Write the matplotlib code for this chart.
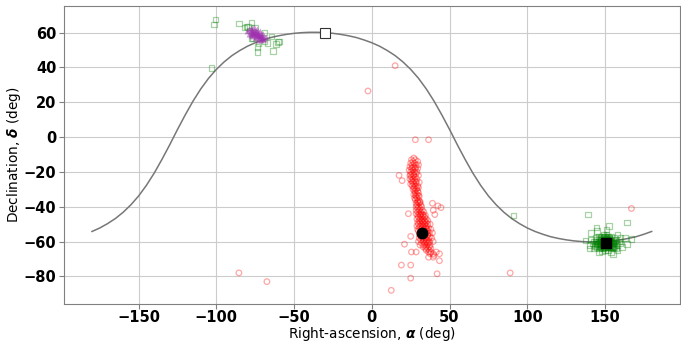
import matplotlib
matplotlib.use('Agg')
import matplotlib.pyplot as plt

# great circle (right-ascension / declination, deg), every 5 deg
circle_ra = list(range(-180, 181, 5))
circle_dec = [-54.2, -52.2, -49.7, -46.8, -43.2, -38.9, -33.8, -27.7, -20.7, -12.8, -4.4, 4.4,
              12.8, 20.7, 27.7, 33.8, 38.9, 43.2, 46.8, 49.7, 52.2, 54.2, 55.8, 57.2, 58.2, 59.0,
              59.6, 60.0, 60.2, 60.2, 60.0, 59.6, 59.0, 58.2, 57.2, 55.8, 54.2, 52.2, 49.7, 46.8,
              43.2, 38.9, 33.8, 27.7, 20.7, 12.8, 4.4, -4.4, -12.8, -20.7, -27.7, -33.8, -38.9,
              -43.2, -46.8, -49.7, -52.2, -54.2, -55.8, -57.2, -58.2, -59.0, -59.6, -60.0, -60.2,
              -60.2, -60.0, -59.6, -59.0, -58.2, -57.2, -55.8, -54.2]

# red source (open circles)
red_ra = [27, 25.5, 28, 26.5, 29.5, 25, 27.5, 26, 28.5, 30, 24.5, 27, 25.5, 28, 29.5, 26.5, 24,
          25, 27.5, 29, 26, 28.5, 24.5, 27, 30, 25.5, 28, 26.5, 29, 24.5, 27.5, 25.5, 26, 28.5,
          30.5, 27, 25, 28, 26, 29.5, 27, 30, 26.5, 28.5, 27.5, 29.5, 28, 30, 27, 29, 28.5, 30.5,
          29, 27.5, 28, 30, 29.5, 31, 28.5, 30.5, 29, 31.5, 30, 28.5, 32, 29.5, 31, 30.5, 28.5,
          32.5, 29.5, 31.5, 33.5, 30.5, 32, 28.5, 31, 33, 29.5, 34.5, 30, 32, 34, 31, 33, 29, 35,
          32, 30.5, 34, 36, 31, 33, 35, 29.5, 32, 34, 30, 36, 37.5, 31, 33, 35, 29, 32.5, 34.5,
          30.5, 36.5, 31.5, 33.5, 35.5, 29.5, 38, 32, 34, 36, 30, 33, 35, 31, 37, 39, 32, 34, 36,
          30.5, 33, 35, 31.5, 37.5, 32.5, 34.5, 36.5, 30.5, 38.5, 33.5, 35.5, 31.5, 33, 35, 37,
          30, 39.5, 34, 36, 32, 33.5, 35.5, 37.5, 31, 35, 37, 33, 36, 38, 34.5, 37, 35, 38, 36.5,
          37.5, 39.5,
          26, 28, 25, 27, 26.5, 28.5, 27.5, 29, 28, 30, 29.5, 31, 31.5, 33, 32.5, 34, 33.5, 35,
          34, 36, 35, 37,
          15, -2.5, 28, 36.5, 17.5, 19.5, 42.5, 44.5, 39.5, 40.5, 25, 21, 25.5, 28.5, 41.5, 43.5,
          40, 36.5, 39.5, 43.5, 19, 25, 25, 42, 12.5, -85.5, -67.5, 89, 167, 23.5, 39]
red_dec = [-12, -13, -13, -14, -14, -15, -15, -16, -16, -16, -17, -17, -18, -18, -18, -19, -19,
           -20, -20, -20, -21, -21, -22, -22, -22, -23, -23, -24, -24, -24, -25, -25, -26, -26,
           -26, -27, -27, -28, -28, -28, -29, -29, -30, -30, -31, -31, -32, -32, -33, -33, -34,
           -34, -35, -35, -36, -36, -37, -37, -38, -38, -39, -39, -40, -40, -40, -41, -41, -42,
           -42, -42, -43, -43, -43, -44, -44, -44, -45, -45, -45, -45, -46, -46, -46, -47, -47,
           -47, -47, -48, -48, -48, -48, -49, -49, -49, -49, -50, -50, -50, -50, -50, -51, -51,
           -51, -51, -52, -52, -52, -52, -53, -53, -53, -53, -53, -54, -54, -54, -54, -55, -55,
           -55, -55, -55, -56, -56, -56, -56, -57, -57, -57, -57, -58, -58, -58, -58, -58, -59,
           -59, -59, -60, -60, -60, -60, -60, -61, -61, -61, -62, -62, -62, -62, -63, -63, -63,
           -64, -64, -64, -65, -65, -66, -66, -67, -67,
           -17.5, -17.5, -21.5, -21.5, -25.5, -25.5, -29.5, -29.5, -33.5, -33.5, -37.5, -37.5,
           -44.5, -44.5, -48.5, -48.5, -52.5, -52.5, -56.5, -56.5, -60.5, -60.5,
           41, 26.5, -1.5, -1.5, -22, -25, -39.5, -40.5, -42, -44.5, -57, -61.5, -66, -66, -66,
           -67, -68, -69, -69, -71, -73.5, -73.5, -81, -78.5, -88, -78, -83, -78, -41, -44, -38]

# green sources (open squares)
green_ra = [150, 148, 152, 146, 154, 149, 151, 147, 153, 145, 155, 150, 148, 152, 144, 156, 149,
            151, 147, 153, 146, 154, 143, 157, 150, 148, 152, 145, 155, 150, 146, 154, 142, 158,
            149, 151, 147, 153, 144, 156, 150, 148, 152, 146, 154, 141, 159, 143, 157, 150, 149,
            151, 147, 153, 145, 155, 148, 152, 144, 156, 140, 160, 146, 154, 149, 151,
            150.5, 148.5, 152.5, 146.5, 154.5, 149.5, 151.5, 147.5, 153.5, 145.5, 155.5, 150.5,
            148.5, 152.5, 144.5, 156.5, 149.5, 151.5, 147.5, 153.5, 146.5, 154.5, 143.5, 157.5,
            150.5, 148.5, 152.5, 145.5, 155.5, 150.5, 146.5, 154.5, 149.5, 151.5, 147.5, 153.5,
            139, 164, 144.5, 152.5, 151, 137.5, 164, 158, 148, 160, 163, 91, 141, 145, 158, 161,
            140, 155, 167,
            -101.7, -100.5, -85.6, -81.8, -80.5, -77.3, -75.3, -78.6, -77.3, -72.8, -73.4, -73.4,
            -67, -64.4, -63.7, -61.8, -60.5, -68.9, -103, -79.7, -76.8, -59.7, -68.9]
green_dec = [-61, -60, -60, -61, -62, -63, -59, -58, -58, -59, -60, -57, -62, -63, -62, -61, -64,
             -62, -63, -61, -60, -59, -60, -59, -59, -57, -57, -63, -63, -65, -64, -64, -61, -62,
             -56, -56, -61, -63, -58, -58, -62, -59, -61, -57, -57, -59, -60, -64, -64, -60, -61,
             -61, -59, -59, -61, -61, -64, -65, -60, -63, -62, -61, -66, -66, -58, -58,
             -60.5, -60.5, -59.5, -61.5, -61.5, -62.5, -58.5, -59.5, -60.5, -60.5, -62.5, -58.5,
             -62.5, -62.5, -61.5, -59.5, -63.5, -63.5, -61.5, -62.5, -58.5, -60.5, -62.5, -61.5,
             -61.5, -58.5, -58.5, -61.5, -60.5, -63.5, -62.5, -63.5, -57.5, -57.5, -60.5, -59.5,
             -44.5, -49, -52, -51, -53, -59.5, -61.5, -65, -65.5, -58, -58, -45, -55, -54, -56,
             -63, -64, -67, -58.5,
             64.7, 67.5, 65.3, 63, 63.6, 65.8, 63, 61.3, 56.8, 53.9, 51.7, 48.8, 53.9, 57.9, 49.4,
             53.4, 54.5, 60.2, 39.8, 63.2, 56.8, 54.9, 54.9]

# purple source (triangles)
purple_ra = [-79, -78, -77.5, -77, -76.5, -76, -75.5, -75, -74.5, -74, -73.5, -73, -72.5, -72,
             -71.5, -71, -70.5, -70, -69.5, -76, -74, -72, -75, -73, -78, -71, -70, -77, -74.5,
             -73.5, -79, -77, -75, -73, -76, -74, -72, -70, -78, -71, -80, -68]
purple_dec = [62, 61.5, 62.5, 61, 60.5, 61.5, 60, 59.5, 60.5, 59, 58.5, 59.5, 58, 58.5, 57.5, 58,
              57, 57.5, 56.5, 59.5, 60.5, 57.5, 61, 58, 60.5, 59, 56.5, 59.5, 58, 60,
              59.5, 58, 57, 56, 63, 62, 61, 59.5, 58.5, 55.5, 61, 57.5]

# markers
apex = (-30, 60)
red_best = (32.2, -55)
green_best = (150.5, -61)

fig = plt.figure(figsize=(6.81, 3.43), dpi=100)
ax = fig.add_axes([0.094, 0.115, 0.904, 0.868])

ax.plot(circle_ra, circle_dec, color='#777777', lw=1.1, zorder=2)
ax.scatter(red_ra, red_dec, s=16, facecolors='none', edgecolors='red', alpha=0.35,
           linewidths=0.9, zorder=3)
ax.scatter(green_ra, green_dec, s=16, marker='s', facecolors='none', edgecolors='green',
           alpha=0.35, linewidths=0.9, zorder=3)
ax.scatter(purple_ra, purple_dec, s=18, marker='^', color='#a030b0', alpha=0.5,
           linewidths=0, zorder=4)
ax.plot(*red_best, 'o', color='black', ms=7.5, zorder=5)
ax.plot(*green_best, 's', color='black', ms=6.5, zorder=5)
ax.plot(*apex, 's', mfc='white', mec='#333333', mew=0.8, ms=6.5, zorder=5)

ax.set_xlim(-198, 198)
ax.set_ylim(-95.6, 75.4)
ax.set_xticks([-150, -100, -50, 0, 50, 100, 150])
ax.set_yticks([-80, -60, -40, -20, 0, 20, 40, 60])
ax.grid(True, color='#cccccc', lw=0.8)
ax.set_axisbelow(True)
for sp in ax.spines.values():
    sp.set_color('#808080')
ax.tick_params(colors='#808080', labelcolor='black', labelsize=10.5, pad=2)
ax.tick_params(axis='x', pad=1)
for lab in ax.get_xticklabels() + ax.get_yticklabels():
    lab.set_fontweight('bold')

ax.set_xlabel(r'Right-ascension, $\boldsymbol{\alpha}$ (deg)', fontsize=9.8)
ax.set_ylabel(r'Declination, $\boldsymbol{\delta}$ (deg)', fontsize=9.8)
ax.xaxis.label.set_va('bottom')
ax.xaxis.set_label_coords(0.5, -0.131)
ax.yaxis.set_label_coords(-0.066, 0.5)

plt.savefig('out.png', dpi=100)
